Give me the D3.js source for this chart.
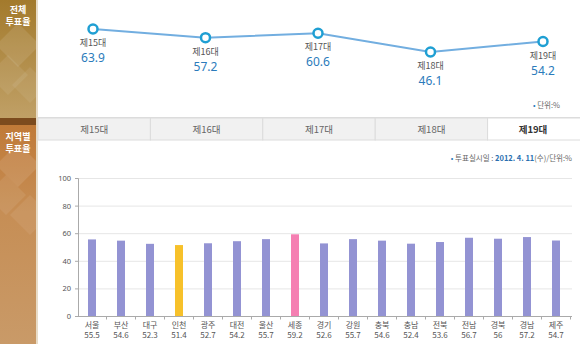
<!DOCTYPE html>
<html><head><meta charset="utf-8">
<script src="https://cdn.jsdelivr.net/npm/d3@7/dist/d3.min.js"></script>
<style>
html,body{margin:0;padding:0;background:#fff;}
svg{display:block;font-family:"Noto Sans CJK KR","Noto Sans",sans-serif;}
</style></head>
<body>
<svg id="c" width="580" height="344"></svg>
<script>
// ---- data ----
const generations = ["제15대","제16대","제17대","제18대","제19대"];
const totalTurnout = [63.9, 57.2, 60.6, 46.1, 54.2];
const regions = ["서울","부산","대구","인천","광주","대전","울산","세종","경기","강원","충북","충남","전북","전남","경북","경남","제주"];
const regionTurnout = [55.5, 54.6, 52.3, 51.4, 52.7, 54.2, 55.7, 59.2, 52.6, 55.7, 54.6, 52.4, 53.6, 56.7, 56, 57.2, 54.7];
const highlight = {"인천":"#f7c12a","세종":"#f57fb2"};
const yTicks = [0,20,40,60,80,100];
const activeTab = "제19대";

const svg = d3.select("#c");

// ---- sidebar ----
const defs = svg.append("defs");
const g1 = defs.append("linearGradient").attr("id","sbTop").attr("x1",0).attr("y1",0).attr("x2",0).attr("y2",1);
g1.append("stop").attr("offset","0%").attr("stop-color","#a37a2c");
g1.append("stop").attr("offset","100%").attr("stop-color","#c0a066");
const g2 = defs.append("linearGradient").attr("id","sbBot").attr("x1",0).attr("y1",0).attr("x2",0).attr("y2",1);
g2.append("stop").attr("offset","0%").attr("stop-color","#c07a38");
g2.append("stop").attr("offset","40%").attr("stop-color","#c68e55");
g2.append("stop").attr("offset","100%").attr("stop-color","#c99a68");

const sbW = 36;
svg.append("rect").attr("x",0).attr("y",0).attr("width",sbW).attr("height",118).attr("fill","url(#sbTop)");
svg.append("rect").attr("x",0).attr("y",118).attr("width",sbW).attr("height",7).attr("fill","#7c4b1e");
svg.append("rect").attr("x",0).attr("y",125).attr("width",sbW).attr("height",219).attr("fill","url(#sbBot)");
// diamond overlays
const diamonds = [[18,45,22,0.10],[8,75,20,0.08],[30,85,18,0.07],[18,165,22,0.10],[6,195,20,0.08],[30,215,20,0.07]];
diamonds.forEach(([cx,cy,r,o])=>{
  svg.append("path").attr("d",`M${cx},${cy-r}L${cx+r},${cy}L${cx},${cy+r}L${cx-r},${cy}Z`)
    .attr("fill","#fff").attr("opacity",o);
});
svg.append("rect").attr("x",sbW).attr("y",0).attr("width",2).attr("height",344).attr("fill","#e8dcc8");

const sbText = (lines, y0) => lines.forEach((t,i)=>svg.append("text").attr("x",sbW/2).attr("y",y0+i*12)
  .attr("text-anchor","middle").attr("font-size",9).attr("font-weight","bold").attr("fill","#fff").text(t));
sbText(["전체","투표율"],13);
sbText(["지역별","투표율"],140);

// ---- top line chart ----
const xL = d3.scalePoint().domain(generations).range([93,543]);
const yL = d3.scaleLinear().domain([40,70]).range([59.9,21.1]);
const lineData = generations.map((g,i)=>({g, v: totalTurnout[i]}));
svg.append("path").datum(lineData)
  .attr("d", d3.line().x(d=>xL(d.g)).y(d=>yL(d.v)))
  .attr("fill","none").attr("stroke","#72aee0").attr("stroke-width",2);
svg.selectAll(".pt").data(lineData).join("circle")
  .attr("cx",d=>xL(d.g)).attr("cy",d=>yL(d.v)).attr("r",4.5)
  .attr("fill","#fff").attr("stroke","#1f9fd3").attr("stroke-width",2.5);
svg.selectAll(".pl").data(lineData).join("text")
  .attr("x",d=>xL(d.g)).attr("y",d=>yL(d.v)+17).attr("text-anchor","middle")
  .attr("font-size",9).attr("fill","#555").text(d=>d.g);
svg.selectAll(".pv").data(lineData).join("text")
  .attr("x",d=>xL(d.g)).attr("y",d=>yL(d.v)+33).attr("text-anchor","middle")
  .attr("font-family","'Noto Sans',sans-serif")
  .attr("font-size",12).attr("fill","#2b7bbb").text(d=>d3.format(".1f")(d.v));
const u1 = svg.append("text").attr("x",560).attr("y",108).attr("text-anchor","end").attr("font-size",7.5).attr("fill","#666");
u1.append("tspan").attr("fill","#2b7bbb").text("• ");
u1.append("tspan").text("단위:%");

// ---- tabs ----
const xT = d3.scaleBand().domain(generations).range([38,600]);
svg.append("line").attr("x1",38).attr("x2",580).attr("y1",117.5).attr("y2",117.5).attr("stroke","#ddd");
svg.selectAll(".tab").data(generations).join("rect")
  .attr("x",d=>xT(d)).attr("y",118).attr("width",xT.bandwidth()).attr("height",22)
  .attr("fill",d=>d===activeTab?"#fff":"#f1f1f1").attr("stroke","#dcdcdc");
svg.selectAll(".tt").data(generations).join("text")
  .attr("x",d=>d===activeTab?533:xT(d)+xT.bandwidth()/2).attr("y",133).attr("text-anchor","middle")
  .attr("font-size",9.5).attr("fill",d=>d===activeTab?"#333":"#666")
  .attr("font-weight",d=>d===activeTab?"bold":"normal").text(d=>d);

// ---- note ----
const note = svg.append("text").attr("x",572).attr("y",161).attr("text-anchor","end").attr("font-size",7.5).attr("fill","#666");
note.append("tspan").attr("fill","#2b7bbb").text("• ");
note.append("tspan").text("투표실시일 : ");
note.append("tspan").attr("fill","#2b6fb0").attr("font-weight","bold").text("2012. 4. 11");
note.append("tspan").text("(수)/단위:%");

// ---- bar chart ----
const xB = d3.scaleBand().domain(regions).range([77.5,570.5]);
const yB = d3.scaleLinear().domain([0,100]).range([316,178]);
const plot = svg.append("g");
plot.selectAll(".grid").data(yTicks.filter(t=>t>0)).join("line")
  .attr("x1",78).attr("x2",572).attr("y1",d=>yB(d)+0.5).attr("y2",d=>yB(d)+0.5)
  .attr("stroke","#e6e6e6");
const yAxis = plot.append("g").attr("transform","translate(78,0)")
  .call(d3.axisLeft(yB).tickValues(yTicks).tickSize(3).tickPadding(4));
yAxis.selectAll("path,line").attr("stroke","#aaa");
yAxis.selectAll("text").attr("font-size",7.5).attr("fill","#555").attr("font-family","'Noto Sans',sans-serif");

plot.selectAll(".bar").data(regions).join("rect")
  .attr("x",d=>xB(d)+xB.bandwidth()/2-4).attr("width",8)
  .attr("y",(d,i)=>yB(regionTurnout[i])).attr("height",(d,i)=>yB(0)-yB(regionTurnout[i]))
  .attr("fill",d=>highlight[d]||"#9393d3");

plot.append("line").attr("x1",78).attr("x2",572).attr("y1",316.5).attr("y2",316.5).attr("stroke","#aaa");
plot.selectAll(".xt").data(regions).join("line")
  .attr("x1",d=>xB(d)+xB.bandwidth()).attr("x2",d=>xB(d)+xB.bandwidth())
  .attr("y1",316.5).attr("y2",319.5).attr("stroke","#aaa");
plot.selectAll(".xl").data(regions).join("text")
  .attr("x",d=>xB(d)+xB.bandwidth()/2).attr("y",328).attr("text-anchor","middle")
  .attr("font-size",8).attr("fill","#555").text(d=>d);
plot.selectAll(".xv").data(regions).join("text")
  .attr("x",d=>xB(d)+xB.bandwidth()/2).attr("y",338).attr("text-anchor","middle")
  .attr("font-size",8).attr("fill","#555").text((d,i)=>regionTurnout[i]);
</script>
</body></html>
